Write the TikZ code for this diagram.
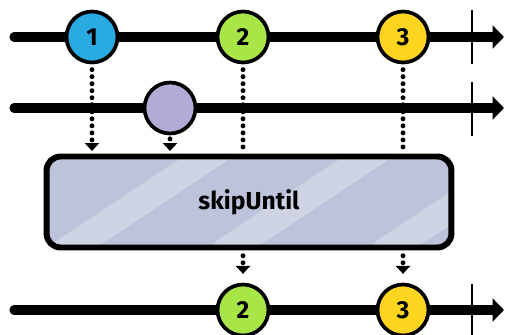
\documentclass[tikz,border=0pt]{standalone}
\usepackage{fontspec}
\setsansfont{Fira Sans}
\usetikzlibrary{arrows.meta}
\definecolor{mblue}{HTML}{29ABE2}
\definecolor{mgreen}{HTML}{A8E547}
\definecolor{myellow}{HTML}{FFD520}
\definecolor{mpurple}{HTML}{B0ACD5}
\definecolor{opfill}{HTML}{BDC3DA}
\definecolor{oplight}{HTML}{CFD4E5}

\tikzset{
  timeline/.style={line width=5.2pt, line cap=round, -{Triangle[length=6.5pt,width=13pt]}},
  endbar/.style={line width=1.3pt},
  marble/.style={circle, draw, line width=2.1pt, minimum size=1.02cm, inner sep=0pt,
    font=\sffamily\fontseries{sb}\fontsize{14}{14}\selectfont},
  emit/.style={line width=2.8pt, line cap=round, dash pattern=on 0pt off 4pt,
    -{Triangle[length=4.5pt,width=8pt]}},
  opbox/.style={draw, line width=3.4pt, rounded corners=8pt, fill=opfill,
    minimum width=8.1cm, minimum height=1.82cm, inner sep=0pt,
    font=\sffamily\fontseries{sb}\fontsize{14}{14}\selectfont}
}

\begin{document}
\begin{tikzpicture}[x=0.02cm,y=-0.02cm]
\useasboundingbox (0,0) rectangle (505,335);
% timelines
\draw[timeline] (14,37) -- (504,37);
\draw[timeline] (14,108) -- (504,108);
\draw[timeline] (14,310) -- (504,310);
\draw[endbar] (472,10) -- (472,64);
\draw[endbar] (472,82) -- (472,136);
\draw[endbar] (472,284) -- (472,335);
% operator
\node[opbox, path picture={
  \foreach \s in {0,160,320} {
    \fill[oplight] ([xshift=\s*0.02cm]path picture bounding box.south west) -- ++(140,-93) -- ++(50,0) -- ++(-140,93) -- cycle;
  }}] (op) at (249,202) {skipUntil};
% source marbles
\node[marble, fill=mblue] (s1) at (92,37) {1};
\node[marble, fill=mgreen] (s2) at (243,37) {2};
\node[marble, fill=myellow] (s3) at (403,37) {3};
\node[marble, fill=mpurple] (n1) at (170,108) {};
% result marbles
\node[marble, fill=mgreen] (r2) at (243,310) {2};
\node[marble, fill=myellow] (r3) at (403,310) {3};
% emissions
\coordinate (in1) at (92,151);
\coordinate (in4) at (170,151);
\draw[emit, shorten <=3pt] (s1.south) -- (in1);
\draw[emit, shorten <=2pt] (n1.south) -- (in4);
\draw[emit, -, shorten <=3pt] (s2.south) -- (s2.south |- op.north);
\draw[emit, -, shorten <=3pt] (s3.south) -- (s3.south |- op.north);
\draw[emit, shorten <=3pt, shorten >=5pt] (op.south -| r2) -- (r2.north);
\draw[emit, shorten <=3pt, shorten >=5pt] (op.south -| r3) -- (r3.north);
\end{tikzpicture}
\end{document}
